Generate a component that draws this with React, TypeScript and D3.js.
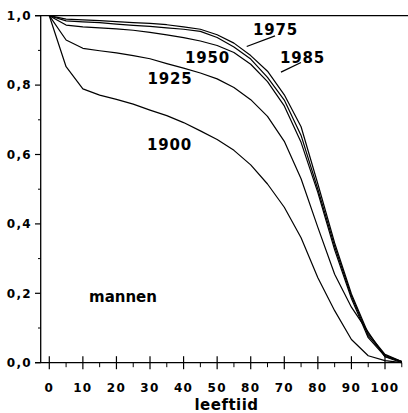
import React from "react";
import * as d3 from "d3";

const ages = [0, 5, 10, 15, 20, 25, 30, 35, 40, 45, 50, 55, 60, 65, 70, 75, 80, 85, 90, 95, 100, 105];
const s1900 = [1.0, 0.853, 0.789, 0.771, 0.759, 0.745, 0.728, 0.712, 0.692, 0.668, 0.643, 0.612, 0.57, 0.515, 0.448, 0.36, 0.245, 0.15, 0.067, 0.02, 0.006, 0.0];
const s1925 = [1.0, 0.93, 0.906, 0.899, 0.893, 0.885, 0.876, 0.862, 0.849, 0.835, 0.818, 0.793, 0.758, 0.71, 0.638, 0.53, 0.39, 0.255, 0.16, 0.088, 0.017, 0.0];
const s1950 = [1.0, 0.973, 0.968, 0.965, 0.962, 0.958, 0.952, 0.945, 0.937, 0.927, 0.914, 0.894, 0.86, 0.81, 0.74, 0.635, 0.49, 0.325, 0.185, 0.072, 0.018, 0.003];
const s1975 = [1.0, 0.985, 0.982, 0.98, 0.976, 0.972, 0.969, 0.965, 0.961, 0.955, 0.937, 0.91, 0.875, 0.822, 0.757, 0.655, 0.5, 0.335, 0.192, 0.078, 0.021, 0.003];
const s1985 = [1.0, 0.99, 0.988, 0.986, 0.983, 0.98, 0.978, 0.974, 0.968, 0.961, 0.945, 0.921, 0.885, 0.84, 0.772, 0.68, 0.515, 0.345, 0.198, 0.084, 0.024, 0.003];
const seriesData = [s1900, s1925, s1950, s1975, s1985];

const xTickValues = [0, 10, 20, 30, 40, 50, 60, 70, 80, 90, 100];
const xTickLabels = ["0", "10", "20", "30", "40", "50", "80", "70", "80", "90", "100"];
const xMinorTicks = [5, 15, 25, 35, 45, 55, 65, 75, 85, 95, 105];
const yTickValues = [0, 0.2, 0.4, 0.6, 0.8, 1.0];
const yTickLabels = ["0,0", "0,2", "0,4", "0,6", "0,8", "1,0"];
const yMinorTicks = [0.1, 0.3, 0.5, 0.7, 0.9];

const FONT = "'DejaVu Sans', sans-serif";

export default function App() {
  const x = d3.scaleLinear().domain([0, 100]).range([49.3, 385]);
  const y = d3.scaleLinear().domain([0, 1]).range([362.7, 15.7]);
  const line = d3
    .line<number>()
    .x((_, i) => x(ages[i]))
    .y((d) => y(d))
    .curve(d3.curveLinear);

  const axisX = 40.7;
  const axisY = y(0);

  return (
    <svg
      width={408}
      height={413}
      style={{ position: "absolute", left: 0, top: 0, display: "block", background: "#fff" }}
    >
      <rect x={0} y={0} width={408} height={413} fill="#fff" />
      {/* frame top */}
      <line x1={35} x2={408} y1={y(1)} y2={y(1)} stroke="#000" strokeWidth={1.2} />
      {/* y axis */}
      <line x1={axisX} x2={axisX} y1={y(1)} y2={axisY} stroke="#000" strokeWidth={1.3} />
      {/* x axis */}
      <line x1={35} x2={402} y1={axisY} y2={axisY} stroke="#000" strokeWidth={1.3} />
      {yTickValues.map((v, i) => (
        <g key={"yt" + i}>
          <line x1={35} x2={axisX} y1={y(v)} y2={y(v)} stroke="#000" strokeWidth={1.2} />
          <text
            x={32}
            y={y(v) + 4.3}
            textAnchor="end"
            fontFamily={FONT}
            fontWeight="bold"
            fontSize={12}
            letterSpacing={1.3}
          >
            {yTickLabels[i]}
          </text>
        </g>
      ))}
      {yMinorTicks.map((v, i) => (
        <line key={"ym" + i} x1={38} x2={axisX} y1={y(v)} y2={y(v)} stroke="#000" strokeWidth={1} />
      ))}
      {xTickValues.map((v, i) => (
        <g key={"xt" + i}>
          <line x1={x(v)} x2={x(v)} y1={axisY - 6.5} y2={axisY + 6.5} stroke="#000" strokeWidth={1.2} />
          <text
            x={x(v)}
            y={391.5}
            textAnchor="middle"
            fontFamily={FONT}
            fontWeight="bold"
            fontSize={12}
            letterSpacing={1.3}
          >
            {xTickLabels[i]}
          </text>
        </g>
      ))}
      {xMinorTicks.map((v, i) => (
        <line key={"xm" + i} x1={x(v)} x2={x(v)} y1={axisY} y2={axisY + 4.5} stroke="#000" strokeWidth={1} />
      ))}
      {seriesData.map((s, i) => (
        <path key={"s" + i} d={line(s) || ""} fill="none" stroke="#000" strokeWidth={1.2} strokeLinejoin="round" />
      ))}
      {/* leader lines */}
      <line x1={246.7} y1={46.5} x2={275} y2={35.8} stroke="#000" strokeWidth={1.3} />
      <line x1={281} y1={72.2} x2={301} y2={62.5} stroke="#000" strokeWidth={1.3} />
      <g fontFamily={FONT} fontWeight="bold" fontSize={15} letterSpacing={0.8}>
        <text x={253} y={35}>1975</text>
        <text x={280} y={62.5}>1985</text>
        <text x={185} y={63}>1950</text>
        <text x={147.5} y={83.5}>1925</text>
        <text x={147} y={150}>1900</text>
        <text x={89} y={301.5} letterSpacing={0}>mannen</text>
        <text x={226.5} y={410} textAnchor="middle" letterSpacing={0.5}>leeftiid</text>
      </g>
    </svg>
  );
}
